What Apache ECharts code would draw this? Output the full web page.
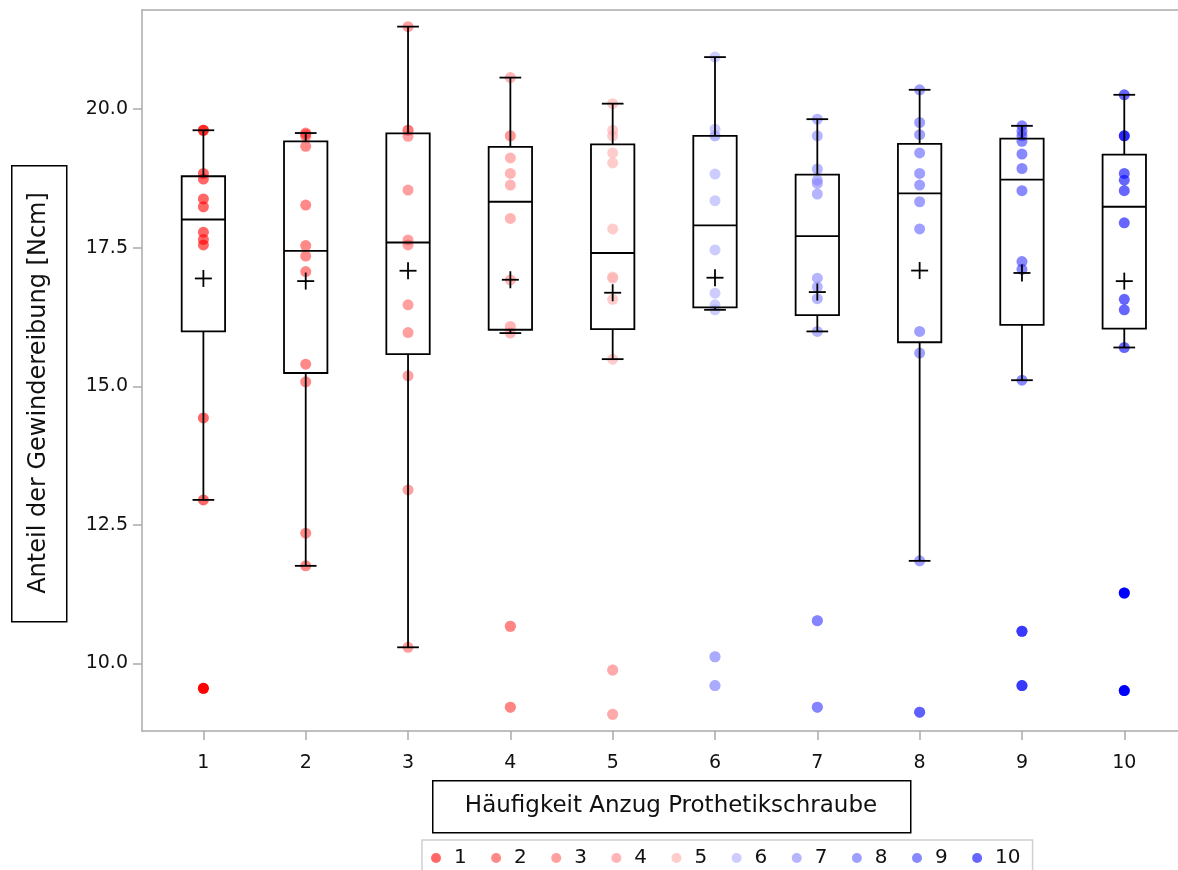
<!DOCTYPE html>
<html>
<head>
<meta charset="utf-8">
<script src="https://cdn.jsdelivr.net/npm/echarts@6/dist/echarts.min.js"></script>
<style>
  html, body { margin: 0; padding: 0; background: #fff; }
  #chart { width: 1178px; height: 870px; }
</style>
</head>
<body>
<div id="chart"></div>
<script>
// Häufigkeit Anzug 1..10, je 12 Messungen (Ncm)
const gruppen = ['1', '2', '3', '4', '5', '6', '7', '8', '9', '10']
const anzug1 = [19.62, 19.62, 18.84, 18.74, 18.38, 18.24, 17.78, 17.65, 17.55, 14.43, 12.95, 9.55]
const anzug2 = [19.57, 19.55, 19.51, 19.33, 18.27, 17.54, 17.35, 17.07, 15.40, 15.08, 12.35, 11.76]
const anzug3 = [21.49, 19.62, 19.62, 19.51, 18.54, 17.64, 17.55, 16.47, 15.97, 15.19, 13.13, 10.29]
const anzug4 = [20.57, 19.52, 19.52, 19.12, 18.84, 18.63, 18.03, 16.92, 16.08, 15.96, 10.67, 9.21]
const anzug5 = [20.10, 19.62, 19.52, 19.21, 19.03, 17.84, 16.97, 16.95, 16.57, 15.49, 9.88, 9.08]
const anzug6 = [20.94, 19.64, 19.52, 19.52, 18.83, 18.35, 17.46, 16.68, 16.47, 16.38, 10.12, 9.60]
const anzug7 = [19.82, 19.52, 18.92, 18.72, 18.66, 18.47, 16.95, 16.79, 16.58, 15.99, 10.77, 9.21]
const anzug8 = [20.35, 19.76, 19.54, 19.21, 18.84, 18.63, 18.33, 17.84, 15.99, 15.60, 11.85, 9.12]
const anzug9 = [19.70, 19.60, 19.52, 19.42, 19.19, 18.93, 18.53, 17.25, 17.11, 15.11, 10.58, 9.60]
const anzug10 = [20.26, 19.52, 19.52, 18.84, 18.72, 18.53, 17.95, 16.57, 16.38, 15.70, 11.27, 9.51]
const alleWerte = [anzug1, anzug2, anzug3, anzug4, anzug5, anzug6, anzug7, anzug8, anzug9, anzug10]

const xTicks = [1, 2, 3, 4, 5, 6, 7, 8, 9, 10]
const yTicks = [10, 12.5, 15, 17.5, 20]

const farben = ['#ff0000', '#ff3939', '#ff5f5f', '#ff8484', '#ffaaaa',
  '#aaaaff', '#8484ff', '#5f5fff', '#3939ff', '#0000ff']
const punktAlpha = 0.6
const schrift = 'DejaVu Sans, Arial, sans-serif'

function rgba(hex, a) {
  const n = parseInt(hex.slice(1), 16)
  return 'rgba(' + (n >> 16) + ',' + ((n >> 8) & 255) + ',' + (n & 255) + ',' + a + ')'
}

// Perzentil wie SAS (Definition 5, Mittelwert bei ganzzahligem n*p)
function perzentil(s, p) {
  const np = s.length * p
  const j = Math.floor(np)
  if (np - j === 0) return (s[j - 1] + s[j]) / 2
  return s[j]
}

function boxWerte(werte) {
  const s = werte.slice().sort((a, b) => a - b)
  const q1 = perzentil(s, 0.25)
  const med = perzentil(s, 0.5)
  const q3 = perzentil(s, 0.75)
  const iqr = q3 - q1
  const lo = s.find(v => v >= q1 - 1.5 * iqr)
  const hi = s.slice().reverse().find(v => v <= q3 + 1.5 * iqr)
  const mean = s.reduce((a, b) => a + b, 0) / s.length
  return { q1, med, q3, lo, hi, mean, aus: s.filter(v => v < lo || v > hi) }
}

const stats = alleWerte.map(boxWerte)

const series = []
// Ausreißer (deckend) unter den Punkten
gruppen.forEach((g, i) => {
  series.push({
    name: 'aus' + g,
    type: 'scatter',
    symbol: 'circle',
    symbolSize: 11,
    z: 2,
    itemStyle: { color: farben[i], opacity: 1 },
    data: stats[i].aus.map(v => [xTicks[i], v])
  })
})
// Einzelwerte (halbtransparent)
gruppen.forEach((g, i) => {
  series.push({
    name: g,
    type: 'scatter',
    symbol: 'circle',
    symbolSize: 11,
    z: 3,
    itemStyle: { color: rgba(farben[i], punktAlpha), opacity: 1 },
    data: alleWerte[i].map(v => [xTicks[i], v])
  })
})
// Boxen, Whisker und Mittelwert
series.push({
  name: 'box',
  type: 'custom',
  z: 5,
  data: stats.map((s, i) => [xTicks[i], s.lo, s.q1, s.med, s.q3, s.hi, s.mean]),
  encode: { x: 0, y: [1, 2, 3, 4, 5, 6] },
  renderItem(params, api) {
    const x = api.value(0)
    const pLo = api.coord([x, api.value(1)])
    const pQ1 = api.coord([x, api.value(2)])
    const pMed = api.coord([x, api.value(3)])
    const pQ3 = api.coord([x, api.value(4)])
    const pHi = api.coord([x, api.value(5)])
    const pMean = api.coord([x, api.value(6)])
    const boxW = api.size([0.424, 0])[0]
    const cap = boxW / 4
    const cx = pMed[0]
    const st = { stroke: '#000', lineWidth: 1.8, fill: null }
    const linie = (x1, y1, x2, y2) => ({ type: 'line', shape: { x1, y1, x2, y2 }, style: st })
    return {
      type: 'group',
      children: [
        linie(cx, pHi[1], cx, pQ3[1]),
        linie(cx, pQ1[1], cx, pLo[1]),
        linie(cx - cap, pHi[1], cx + cap, pHi[1]),
        linie(cx - cap, pLo[1], cx + cap, pLo[1]),
        { type: 'rect', shape: { x: cx - boxW / 2, y: pQ3[1], width: boxW, height: pQ1[1] - pQ3[1] },
          style: { stroke: '#000', lineWidth: 1.8, fill: 'none' } },
        linie(cx - boxW / 2, pMed[1], cx + boxW / 2, pMed[1]),
        linie(cx - 8.5, pMean[1], cx + 8.5, pMean[1]),
        linie(cx, pMean[1] - 8.5, cx, pMean[1] + 8.5)
      ]
    }
  }
})

const achsGrau = '#ababab'
const chart = echarts.init(document.getElementById('chart'))
chart.setOption({
  animation: false,
  backgroundColor: '#fff',
  grid: { left: 142, right: 0, top: 10, bottom: 139, outerBoundsMode: 'none' },
  xAxis: [{
    type: 'value',
    min: 0.4,
    max: 10.525,
    axisLine: { show: true, onZero: false, lineStyle: { color: achsGrau, width: 1.5 } },
    axisTick: { show: true, length: 9, customValues: xTicks, lineStyle: { color: achsGrau, width: 1.5 } },
    axisLabel: { customValues: xTicks, margin: 23, fontSize: 19, fontFamily: schrift, color: '#111' },
    splitLine: { show: false }
  }, {
    type: 'value',
    position: 'top',
    min: 0.4,
    max: 10.525,
    axisLine: { show: true, onZero: false, lineStyle: { color: achsGrau, width: 1.5 } },
    axisTick: { show: false },
    axisLabel: { show: false },
    splitLine: { show: false }
  }],
  yAxis: {
    type: 'value',
    min: 8.78,
    max: 21.79,
    axisLine: { show: true, onZero: false, lineStyle: { color: achsGrau, width: 1.5 } },
    axisTick: { show: true, length: 9, customValues: yTicks, lineStyle: { color: achsGrau, width: 1.5 } },
    axisLabel: { customValues: yTicks, margin: 14, fontSize: 19, fontFamily: schrift, color: '#111',
      formatter: v => v.toFixed(1) },
    splitLine: { show: false }
  },
  legend: {
    data: gruppen.map((g, i) => ({ name: g, icon: 'circle',
      itemStyle: { color: rgba(farben[i], punktAlpha), opacity: 1 } })),
    selectedMode: false,
    left: 422,
    top: 840,
    itemWidth: 10,
    itemHeight: 10,
    itemGap: 24.4,
    padding: [8, 12, 30, 9],
    borderColor: '#d0d0d0',
    borderWidth: 1.5,
    textStyle: { fontSize: 20, fontFamily: schrift, color: '#111', padding: [0, 0, 0, 8] }
  },
  graphic: [
    { type: 'rect', left: 432, top: 780, z: 10,
      shape: { width: 478, height: 52 },
      style: { fill: '#fff', stroke: '#000', lineWidth: 1.5 } },
    { type: 'text', x: 671, y: 806, z: 11,
      style: { text: 'Häufigkeit Anzug Prothetikschraube', font: '23px ' + schrift,
        fill: '#111', align: 'center', verticalAlign: 'middle' } },
    { type: 'rect', left: 11, top: 165, z: 10,
      shape: { width: 55, height: 456 },
      style: { fill: '#fff', stroke: '#000', lineWidth: 1.5 } },
    { type: 'text', x: 39, y: 393, rotation: Math.PI / 2, z: 11,
      style: { text: 'Anteil der Gewindereibung [Ncm]', font: '24px ' + schrift,
        fill: '#111', align: 'center', verticalAlign: 'middle' } }
  ],
  series
})
</script>
</body>
</html>
